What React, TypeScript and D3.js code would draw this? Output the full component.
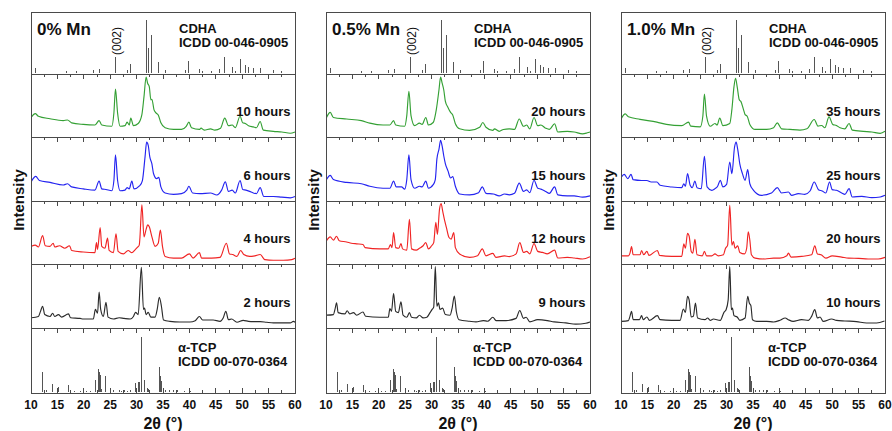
import React from 'react';
import * as d3 from 'd3';

// ---------- data ----------
const xTickValues = [10, 15, 20, 25, 30, 35, 40, 45, 50, 55, 60];
const xMinorValues = [12.5, 17.5, 22.5, 27.5, 32.5, 37.5, 42.5, 47.5, 52.5, 57.5];
const panelTitles = ['0% Mn', '0.5% Mn', '1.0% Mn'];
const hourLabels = [
  ['10 hours', '6 hours', '4 hours', '2 hours'],
  ['20 hours', '15 hours', '12 hours', '9 hours'],
  ['35 hours', '25 hours', '20 hours', '10 hours'],
];
const cdhaTitle = ['CDHA', 'ICDD 00-046-0905'];
const tcpTitle = ['α-TCP', 'ICDD 00-070-0364'];
const peakLabel = '(002)';
const peak002 = 26.0;
const yLabel = 'Intensity';
const xLabel = '2θ (°)';

// reference stick patterns [2θ, relative intensity]
const cdhaRef = [
  [10.9, 9], [16.8, 2], [18.6, 2], [21.8, 4], [22.9, 7.5], [26.0, 29], [28.2, 5], [28.9, 17],
  [31.8, 100], [32.3, 47], [32.9, 72], [34.1, 21], [35.5, 4], [39.2, 5], [39.9, 22], [42.0, 6],
  [42.4, 3], [44.1, 2], [45.7, 6], [46.7, 29], [48.1, 11], [48.7, 3], [49.6, 26], [50.6, 14],
  [51.2, 11], [52.1, 9], [53.4, 9], [55.9, 5], [57.5, 2.5],
];
const tcpRef = [
  [12.1, 36], [13.0, 3], [14.1, 14], [15.2, 9], [17.1, 11], [18.3, 1.5], [19.3, 1.5], [20.6, 1.5],
  [21.2, 1.5], [22.2, 21], [22.8, 42], [23.0, 36], [23.1, 31], [23.4, 5], [24.2, 29], [25.6, 2],
  [26.7, 2.5], [27.2, 1.5], [27.7, 2], [28.3, 1.5], [28.9, 2], [29.8, 15], [30.3, 17], [30.5, 17],
  [30.9, 100], [31.5, 21], [32.0, 6], [32.3, 4], [34.3, 44], [34.6, 28], [34.8, 19], [35.5, 2],
  [36.2, 2], [37.0, 2], [37.8, 2], [39.0, 1.5], [40.0, 2], [40.3, 1.5],
];

// measured patterns [2θ, intensity (a.u.)]
const pat0_10h = [
  [10.1, 32], [10.8, 37], [11.4, 33], [13.6, 29], [16.1, 26], [16.9, 27], [17.7, 22.5], [19.9, 20],
  [22.1, 19], [22.9, 26], [23.4, 19], [25.3, 17], [25.7, 38], [26.0, 76], [26.4, 38], [26.9, 17],
  [27.8, 18], [28.2, 23.5], [28.6, 19], [28.9, 30], [29.4, 18], [30.3, 21.5], [31.0, 35.6], [31.4, 64],
  [31.8, 95], [32.1, 85], [32.4, 80], [32.7, 59], [32.9, 60], [33.3, 43], [33.7, 38], [34.1, 35],
  [34.6, 22.5], [35.4, 14.7], [37.0, 12], [38.5, 12], [39.4, 17], [39.9, 23.5], [40.4, 14.7], [41.9, 12],
  [42.2, 14], [42.8, 11], [44.0, 13], [44.8, 11], [45.9, 14], [46.7, 30], [47.4, 18], [48.1, 19],
  [48.7, 15], [49.6, 33], [50.1, 22.5], [50.6, 21.5], [51.2, 18], [52.1, 16], [52.7, 14.7], [53.4, 24.6],
  [54.0, 11], [55.9, 9], [57.5, 8], [59.1, 6], [60.0, 8],
];
const pat0_6h = [
  [10.1, 31], [10.9, 38.5], [11.6, 32], [13.6, 29], [16.1, 25], [16.9, 27], [17.7, 22], [19.9, 19],
  [22.1, 17], [22.9, 31], [23.4, 19], [24.2, 18], [25.3, 16], [25.7, 32], [26.0, 72], [26.4, 32],
  [26.9, 16], [27.8, 17], [28.2, 21], [28.6, 19], [29.1, 31], [29.5, 19], [30.6, 24], [31.1, 32],
  [31.6, 69], [31.9, 92], [32.2, 87], [32.5, 69], [32.9, 58], [33.2, 43], [33.8, 35], [34.2, 37],
  [34.6, 22], [35.4, 12.5], [37.0, 10.4], [38.5, 11.5], [39.5, 17], [39.9, 23], [40.6, 12.5], [42.0, 11.5],
  [44.0, 12.5], [45.2, 9.4], [46.1, 17], [46.8, 30], [47.4, 15], [48.1, 17], [48.7, 12.5], [49.6, 32],
  [50.1, 18], [50.7, 17], [51.4, 15], [52.1, 12.5], [52.7, 11.5], [53.4, 21], [54.1, 7], [55.9, 7],
  [57.5, 6], [59.1, 5], [60.0, 7],
];
const pat0_4h = [
  [10.1, 28], [10.8, 30], [11.4, 27], [12.2, 45], [12.7, 29], [13.6, 28], [14.2, 33], [14.5, 27],
  [15.4, 29], [16.4, 25], [17.3, 29], [17.7, 21.5], [19.9, 19], [22.1, 18], [22.4, 34], [22.6, 23],
  [23.1, 58], [23.4, 28], [24.0, 25], [24.5, 41], [24.8, 21.5], [25.6, 18], [26.1, 48], [26.5, 20],
  [27.5, 16], [28.4, 21.5], [29.1, 18], [29.7, 22.5], [30.1, 26], [30.5, 30], [30.6, 38], [31.0, 94],
  [31.4, 43], [31.8, 55], [32.1, 62], [32.4, 59], [32.9, 43], [33.5, 28], [34.1, 33], [34.5, 54],
  [34.9, 28], [35.4, 12], [37.0, 9.4], [38.5, 9.4], [40.0, 16], [40.7, 9.4], [41.9, 18], [42.3, 9.4],
  [44.2, 9.4], [45.8, 10.5], [47.0, 33], [47.6, 16], [48.2, 15], [49.0, 12], [49.7, 21.5], [50.3, 15],
  [51.4, 12], [52.4, 13], [53.4, 15], [54.3, 7], [55.9, 6], [57.8, 6], [59.4, 7], [60.0, 9],
];
const pat0_2h = [
  [10.1, 16], [11.4, 18], [11.8, 26], [12.2, 34], [12.6, 21], [13.6, 18], [14.1, 23], [14.5, 18],
  [15.2, 21], [15.8, 17], [17.1, 22], [17.5, 16], [19.3, 15], [19.9, 14], [21.8, 14], [22.2, 29],
  [22.6, 23], [22.9, 56], [23.2, 29], [23.7, 18], [24.2, 40], [24.6, 17], [25.6, 14], [26.7, 16],
  [27.6, 15], [28.8, 14], [29.4, 18], [29.8, 24.5], [30.3, 21], [30.9, 95], [31.3, 29], [31.5, 31],
  [31.8, 21], [32.2, 24.5], [32.7, 17], [33.5, 17], [33.9, 29], [34.3, 48], [34.7, 34], [35.1, 12.5],
  [36.3, 10.4], [38.2, 9.4], [40.1, 9.4], [41.1, 11.5], [41.9, 18], [42.5, 12.5], [44.5, 12.5], [45.8, 10.4],
  [46.4, 15.6], [46.9, 26], [47.4, 13], [48.0, 14], [49.0, 9], [50.2, 12], [51.2, 10.4], [52.1, 10],
  [53.4, 10], [54.6, 9], [55.9, 8], [57.8, 8], [59.1, 8], [59.7, 10.4], [60.0, 9],
];
const pat05_20h = [
  [10.1, 31], [10.8, 39], [11.4, 31], [13.9, 28.5], [16.7, 26], [18.3, 22], [20.8, 19], [22.1, 19],
  [22.8, 26], [23.2, 19], [24.9, 17], [25.3, 34], [25.7, 72.5], [26.1, 34], [26.8, 18], [27.7, 22],
  [28.2, 20], [28.9, 31], [29.4, 19], [30.3, 23], [30.9, 44], [31.4, 75], [31.7, 95], [32.0, 85.5],
  [32.3, 75], [32.6, 57], [33.1, 47], [33.6, 39], [34.0, 35], [34.5, 21], [35.3, 13], [37.2, 10.4],
  [39.1, 15.5], [39.7, 23], [40.3, 15.5], [41.6, 10.4], [41.9, 13], [42.8, 9], [43.6, 12], [44.7, 13],
  [45.7, 12], [46.6, 28.5], [47.4, 17], [48.0, 19], [48.6, 13], [49.4, 31], [50.1, 18], [50.7, 19],
  [51.6, 14], [52.3, 12], [53.3, 21], [53.9, 8], [55.7, 9], [57.0, 8], [58.6, 5], [59.5, 6.7], [60.0, 8],
];
const pat05_15h = [
  [10.1, 33.5], [10.8, 40], [11.4, 33.5], [13.9, 29], [16.7, 27], [18.3, 23], [20.8, 20], [22.1, 20],
  [22.8, 31], [23.3, 22], [24.3, 22], [24.9, 18.6], [25.3, 33.5], [25.7, 72], [26.1, 33.5], [26.8, 20],
  [27.7, 23], [28.2, 22], [28.9, 31], [29.4, 20], [30.3, 25.5], [30.7, 33.5], [31.0, 65.4], [31.4, 81],
  [31.7, 95], [32.0, 85.6], [32.3, 70.7], [32.6, 58.5], [33.1, 47], [33.6, 36], [34.0, 38], [34.5, 23],
  [35.3, 11], [37.2, 9.6], [38.9, 13], [39.6, 22], [40.3, 12], [41.7, 11], [42.8, 8], [43.8, 11],
  [44.7, 9.6], [45.7, 12], [46.6, 28], [47.4, 15], [48.0, 17.5], [48.6, 13], [49.4, 32.4], [50.1, 20],
  [50.7, 18.6], [51.6, 15], [52.3, 12], [53.3, 22], [53.9, 9.6], [55.7, 8], [57.0, 8], [58.6, 6], [60.0, 8],
];
const pat05_12h = [
  [10.1, 37], [10.8, 43], [11.4, 38], [12.0, 44], [12.5, 37], [13.9, 35], [14.8, 33], [15.8, 32],
  [17.0, 31], [17.4, 26], [20.2, 24], [21.8, 24], [22.2, 31], [22.5, 26], [22.8, 50], [23.2, 26],
  [23.8, 25], [24.2, 32.6], [24.5, 24], [25.3, 22], [25.8, 71], [26.2, 24], [27.1, 22], [27.7, 25],
  [28.4, 29], [28.9, 34], [29.4, 24], [30.0, 29], [30.4, 34], [30.8, 66], [31.1, 47], [31.5, 87],
  [31.8, 96], [32.1, 84], [32.5, 68], [32.8, 58], [33.3, 42], [33.7, 39.5], [34.2, 50], [34.5, 26],
  [35.3, 16], [37.2, 10.5], [38.7, 13], [39.6, 24], [40.3, 13], [41.6, 16.8], [42.2, 10.5], [43.8, 13],
  [44.7, 11.6], [46.0, 16], [46.7, 34], [47.4, 18.4], [48.0, 20], [48.6, 16], [49.4, 32.6], [50.1, 20],
  [51.0, 18.4], [51.9, 16], [53.3, 22], [53.9, 9.5], [55.7, 10.5], [57.0, 9.5], [58.6, 8], [60.0, 11.6],
];
const pat05_9h = [
  [10.1, 20], [11.4, 21], [11.7, 29], [12.0, 39.5], [12.3, 24], [13.6, 22], [14.0, 27], [14.5, 22],
  [15.2, 24], [15.8, 20], [17.0, 25], [17.5, 18.4], [20.2, 16.8], [21.8, 16.8], [22.1, 30.5], [22.4, 26],
  [22.8, 53.7], [23.2, 26], [23.7, 24], [24.2, 41], [24.6, 20], [25.3, 16.8], [25.8, 24], [26.2, 16.8],
  [27.1, 15.8], [27.7, 20], [28.4, 15.8], [29.1, 16.8], [29.7, 24], [30.1, 29], [30.4, 32.6], [30.7, 95.8],
  [31.0, 34], [31.3, 39.5], [31.6, 29], [32.1, 31], [32.6, 21], [33.5, 20], [33.9, 31.6], [34.3, 50],
  [34.7, 25], [35.2, 13], [37.2, 10.5], [38.4, 9.5], [39.8, 11.6], [40.6, 10.5], [41.6, 16.8], [42.2, 11.6],
  [44.1, 11.6], [46.0, 15], [46.7, 27.4], [47.4, 15], [47.9, 16.8], [48.6, 9.5], [50.1, 13], [51.9, 11.6],
  [53.2, 9.5], [55.4, 8], [57.3, 6], [59.2, 7.4], [60.0, 9.5],
];
const pat10_35h = [
  [10.1, 30], [10.8, 36.6], [11.4, 32], [13.6, 28], [16.8, 23.6], [18.6, 20], [21.5, 18], [22.8, 23.6],
  [23.2, 17.3], [25.0, 16], [25.5, 33], [25.8, 68], [26.2, 33], [26.9, 17], [27.8, 21.5], [28.2, 19],
  [28.7, 30], [29.3, 18], [30.6, 21.5], [31.0, 43.5], [31.4, 80], [31.7, 93], [32.0, 80], [32.4, 59],
  [32.7, 56.5], [33.2, 43.5], [33.5, 35.6], [33.9, 33], [34.4, 20], [35.4, 12], [37.6, 12], [38.9, 14.7],
  [39.6, 22.5], [40.4, 13], [42.0, 12], [43.9, 11], [45.2, 13], [46.6, 27.7], [47.3, 17.3], [48.0, 18.3],
  [48.6, 14.7], [49.4, 32], [50.1, 20], [50.8, 18.3], [51.5, 14.7], [52.4, 13], [53.2, 21.5], [53.8, 11],
  [55.9, 9], [57.5, 8], [59.1, 5.8], [60.0, 9],
];
const pat10_25h = [
  [10.1, 37.5], [10.6, 41.7], [11.3, 35], [11.9, 41.7], [12.3, 33.3], [13.9, 32], [14.9, 32], [15.7, 29.7],
  [16.8, 29.7], [17.4, 24.5], [19.6, 21.9], [21.5, 20.8], [21.9, 27], [22.2, 23], [22.6, 42.7], [23.1, 24.5],
  [23.5, 20.8], [24.0, 31], [24.4, 20.8], [25.2, 19.3], [25.8, 70], [26.3, 22], [27.2, 16.7], [27.8, 19.3],
  [28.3, 23], [28.8, 32.3], [29.3, 22], [30.0, 26], [30.6, 61], [31.0, 42.7], [31.5, 84], [31.8, 92],
  [32.1, 81], [32.5, 58], [33.0, 42.7], [33.5, 32.3], [34.0, 49], [34.4, 27], [35.1, 16.7], [36.6, 8.9],
  [38.5, 12.5], [39.6, 20.8], [40.4, 12.5], [41.7, 14], [42.3, 8.9], [43.6, 11.5], [44.8, 10.4], [45.8, 15.6],
  [46.6, 29.7], [47.4, 17.7], [48.1, 15.6], [48.8, 12.5], [49.5, 29.7], [50.0, 17.7], [50.8, 16.7], [51.8, 12.5],
  [52.4, 10.4], [53.2, 19.3], [53.8, 6.3], [55.6, 7.3], [57.5, 5.2], [59.1, 6.3], [60.0, 8.9],
];
const pat10_20h = [
  [10.1, 13], [11.4, 13], [11.7, 17.3], [12.0, 27.7], [12.3, 14.7], [13.6, 14.7], [13.9, 21.5], [14.3, 14.7],
  [14.9, 20], [15.3, 13.6], [16.9, 21.5], [17.3, 13.6], [19.6, 12], [21.5, 12], [21.9, 32], [22.2, 25],
  [22.6, 48.7], [22.9, 44.5], [23.3, 20], [23.6, 17.3], [24.0, 39.3], [24.4, 14.7], [25.4, 13], [25.8, 20],
  [26.2, 13], [27.2, 13], [27.8, 16], [28.4, 13], [29.4, 14.7], [29.8, 25], [30.2, 30], [30.6, 93],
  [31.0, 30], [31.3, 35.6], [31.6, 25], [32.1, 28.8], [32.5, 18.3], [33.4, 16], [33.8, 25], [34.1, 51],
  [34.4, 38], [34.7, 14.7], [35.4, 9.4], [37.3, 7.9], [38.9, 9.4], [40.1, 9.4], [41.4, 13], [41.7, 17.3],
  [42.2, 11], [44.2, 12], [46.1, 14.7], [46.7, 28.8], [47.2, 16], [47.9, 14.7], [48.8, 9.4], [50.0, 13],
  [51.8, 11], [53.1, 9.4], [55.0, 8.9], [56.8, 7.9], [58.7, 7.9], [60.0, 10.5],
];
const pat10_10h = [
  [10.1, 10.4], [11.4, 11.5], [11.7, 18.2], [12.0, 26], [12.3, 13], [13.5, 13], [13.9, 19.3], [14.2, 13],
  [14.9, 17.2], [15.4, 12], [16.9, 19.3], [17.4, 13], [19.6, 12], [21.2, 12], [21.8, 29.7], [22.2, 24.5],
  [22.6, 49.5], [22.9, 44], [23.3, 17.2], [23.7, 18.2], [24.1, 39], [24.5, 15.6], [25.9, 13], [26.4, 15.6],
  [26.9, 12], [27.5, 14], [28.8, 12], [29.5, 24.5], [29.9, 28.6], [30.3, 44], [30.6, 96], [30.9, 28.6],
  [31.1, 31], [31.4, 19.3], [32.0, 17.2], [32.5, 12], [33.5, 15.6], [34.0, 49.5], [34.3, 39], [34.6, 35],
  [34.9, 13], [35.7, 10.4], [37.6, 10.4], [38.9, 9.4], [40.1, 12], [41.1, 15.6], [41.7, 13], [42.6, 10.4],
  [44.2, 13], [45.5, 12], [46.1, 18.2], [46.7, 28.6], [47.2, 15.6], [47.7, 17.2], [48.3, 10.4], [49.9, 14],
  [50.8, 12], [52.4, 11], [54.6, 10], [56.5, 7.8], [58.4, 7.8], [59.9, 11],
];

const patterns = [
  [pat0_10h, pat0_6h, pat0_4h, pat0_2h],
  [pat05_20h, pat05_15h, pat05_12h, pat05_9h],
  [pat10_35h, pat10_25h, pat10_20h, pat10_10h],
];
const seriesColors = ['#34a034', '#2424f0', '#f02424', '#2b2b2b'];

// ---------- layout ----------
const W = 892;
const H = 431;
const rowEdges = [12, 74, 137, 201, 264, 328, 393];
const FONT = "'Liberation Sans', Arial, Helvetica, sans-serif";
const frameColor = '#4a4a4a';
const stickColor = '#555';

function Sticks({ data, x, top, bottom }: any) {
  const y = d3.scaleLinear().domain([0, 100]).range([bottom - 1.5, bottom - 0.865 * (bottom - top)]);
  return (
    <g>
      {data.map((d: number[], i: number) => (
        <line key={i} x1={x(d[0])} x2={x(d[0])} y1={y(0)} y2={y(d[1])} stroke={stickColor} strokeWidth={1} shapeRendering="crispEdges" />
      ))}
    </g>
  );
}

function Panel({ index }: { index: number }) {
  const left = 31 + 295 * index;
  const right = left + 264;
  const x = d3.scaleLinear().domain([10, 60]).range([left, right]);
  const curves = patterns[index];
  const labels = hourLabels[index];
  return (
    <g>
      <Sticks data={cdhaRef} x={x} top={rowEdges[0]} bottom={rowEdges[1]} />
      <Sticks data={tcpRef} x={x} top={rowEdges[5]} bottom={rowEdges[6]} />
      {curves.map((c, r) => {
        const top = rowEdges[r + 1];
        const bottom = rowEdges[r + 2];
        const y = d3.scaleLinear().domain([0, 100]).range([bottom, top]);
        const line = d3.line<number[]>().x(d => x(d[0])).y(d => y(d[1])).curve(d3.curveMonotoneX);
        return (
          <g key={r}>
            <path d={line(c as number[][]) || ''} fill="none" stroke={seriesColors[r]} strokeWidth={1.15} strokeLinejoin="round" />
            <text x={right - 4.5} y={bottom - 21} textAnchor="end" fontWeight="bold" fontSize={13}>{labels[r]}</text>
          </g>
        );
      })}
      <rect x={left} y={rowEdges[0]} width={right - left} height={rowEdges[6] - rowEdges[0]} fill="none" stroke={frameColor} strokeWidth={1} shapeRendering="crispEdges" />
      {rowEdges.slice(1, 6).map((ry, i) => (
        <g key={i}>
          <line x1={left} x2={right} y1={ry} y2={ry} stroke={frameColor} strokeWidth={1} shapeRendering="crispEdges" />
          {xTickValues.map(t => (
            <line key={'M' + t} x1={x(t)} x2={x(t)} y1={ry} y2={ry + 5} stroke={frameColor} strokeWidth={1} shapeRendering="crispEdges" />
          ))}
          {xMinorValues.map(t => (
            <line key={'m' + t} x1={x(t)} x2={x(t)} y1={ry} y2={ry + 3} stroke={frameColor} strokeWidth={1} shapeRendering="crispEdges" />
          ))}
        </g>
      ))}
      {xTickValues.map(t => (
        <g key={'b' + t}>
          <line x1={x(t)} x2={x(t)} y1={rowEdges[6]} y2={rowEdges[6] - 5} stroke={frameColor} strokeWidth={1} shapeRendering="crispEdges" />
          <text x={x(t)} y={409} textAnchor="middle" fontWeight="bold" fontSize={12}>{t}</text>
        </g>
      ))}
      {xMinorValues.map(t => (
        <line key={'bm' + t} x1={x(t)} x2={x(t)} y1={rowEdges[6]} y2={rowEdges[6] - 3} stroke={frameColor} strokeWidth={1} shapeRendering="crispEdges" />
      ))}
      <text x={left + 6} y={35} fontWeight="bold" fontSize={17}>{panelTitles[index]}</text>
      <text transform={`translate(${x(peak002) + 1.5},41) rotate(-90)`} textAnchor="middle" dominantBaseline="central" fontSize={12}>{peakLabel}</text>
      <text x={left + 148} y={33} fontWeight="bold" fontSize={13}>{cdhaTitle[0]}</text>
      <text x={left + 148} y={47} fontWeight="bold" fontSize={13}>{cdhaTitle[1]}</text>
      <text x={left + 147} y={352} fontWeight="bold" fontSize={13}>{tcpTitle[0]}</text>
      <text x={left + 147} y={366} fontWeight="bold" fontSize={13}>{tcpTitle[1]}</text>
      <text transform={`translate(${left - 13},200) rotate(-90)`} textAnchor="middle" dominantBaseline="central" fontWeight="bold" fontSize={15}>{yLabel}</text>
      <text x={(left + right) / 2} y={429} textAnchor="middle" fontWeight="bold" fontSize={16}>{xLabel}</text>
    </g>
  );
}

export default function App() {
  return (
    <svg width={W} height={H} viewBox={`0 0 ${W} ${H}`} style={{ position: 'absolute', left: 0, top: 0, background: '#fff' }} fontFamily={FONT} fill="#111">
      <rect x={0} y={0} width={W} height={H} fill="#fff" />
      {panelTitles.map((_, i) => (
        <Panel key={i} index={i} />
      ))}
    </svg>
  );
}
